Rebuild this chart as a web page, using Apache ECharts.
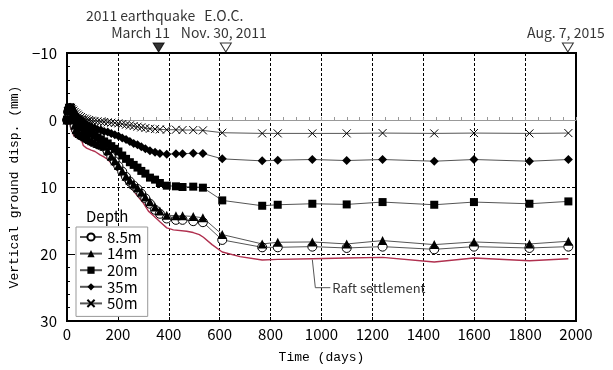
<!DOCTYPE html>
<html>
<head>
<meta charset="utf-8">
<script src="https://cdn.jsdelivr.net/npm/echarts@6/dist/echarts.min.js"></script>
<style>
  html, body { margin: 0; padding: 0; background: #fff; }
  #chart { width: 613px; height: 370px; }
</style>
</head>
<body>
<div id="chart"></div>
<script>
// Measurement days (elapsed days) shared by the layered settlement gauges
const days = [0, 4, 8, 12, 16, 20, 25, 30, 36, 42, 48, 55, 62, 70, 78, 87, 97, 108, 120, 133,
  146, 160, 174, 188, 202, 217, 232, 247, 262, 277, 292, 308, 326, 346, 365, 392, 428, 454, 496, 534,
  610, 767, 828, 964, 1099, 1240, 1443, 1599, 1817, 1970];

// Vertical ground displacement (mm, settlement positive) by depth
const depth8_5 = [0, -1.2, -1.7, -1.7, -1.3, -0.7, 0.1, 0.9, 1.5, 1.9, 2.1, 2.3, 2.4, 2.6, 2.8, 3.0, 3.2, 3.4, 3.6, 3.8,
  4.0, 4.7, 5.5, 6.2, 6.9, 7.7, 8.5, 9.2, 9.8, 10.3, 11.0, 11.7, 12.5, 13.4, 14.0, 14.7, 14.9, 14.9, 15.1, 15.25,
  17.9, 19.0, 19.0, 18.9, 19.1, 18.9, 19.3, 18.9, 19.1, 18.9];
const depth14 = [0, -1.3, -1.8, -1.8, -1.4, -0.8, 0.0, 0.8, 1.4, 1.8, 2.0, 2.2, 2.3, 2.5, 2.7, 2.9, 3.1, 3.3, 3.5, 3.7,
  3.9, 4.6, 5.4, 6.1, 6.8, 7.6, 8.4, 9.0, 9.6, 10.1, 10.8, 11.5, 12.2, 13.0, 13.6, 14.2, 14.3, 14.3, 14.4, 14.6,
  17.1, 18.5, 18.25, 18.2, 18.5, 18.0, 18.6, 18.2, 18.5, 18.1];
const depth20 = [0, -1.3, -1.8, -1.9, -1.6, -1.3, -0.9, -0.5, -0.1, 0.3, 0.6, 0.9, 1.1, 1.4, 1.6, 1.8, 2.0, 2.3, 2.6, 2.9,
  3.2, 3.5, 3.9, 4.3, 4.7, 5.3, 5.8, 6.3, 6.7, 7.1, 7.6, 8.0, 8.6, 8.9, 9.4, 9.8, 9.9, 10.0, 9.95, 10.1,
  12.0, 12.8, 12.65, 12.5, 12.6, 12.25, 12.65, 12.25, 12.5, 12.15];
const depth35 = [0, -1.3, -1.8, -1.9, -1.7, -1.5, -1.2, -0.9, -0.6, -0.3, -0.1, 0.1, 0.3, 0.6, 0.8, 0.9, 1.1, 1.2, 1.4, 1.5,
  1.7, 1.8, 2.0, 2.2, 2.4, 2.7, 2.9, 3.2, 3.5, 3.7, 4.0, 4.3, 4.6, 4.8, 5.0, 5.1, 5.05, 5.05, 4.95, 5.0,
  5.8, 6.1, 6.0, 5.9, 6.05, 5.9, 6.15, 5.9, 6.15, 5.9];
const depth50 = [0, -1.3, -1.8, -1.9, -1.8, -1.6, -1.4, -1.2, -1.0, -0.8, -0.6, -0.45, -0.3, -0.2, -0.1, 0.0, 0.1, 0.15, 0.2, 0.25,
  0.3, 0.35, 0.4, 0.45, 0.5, 0.6, 0.7, 0.8, 0.9, 1.0, 1.1, 1.2, 1.3, 1.35, 1.4, 1.45, 1.45, 1.5, 1.5, 1.55,
  1.9, 2.0, 2.0, 2.0, 2.0, 1.95, 2.0, 1.95, 2.0, 1.95];

// Raft foundation settlement (continuous record)
const raftDays = [0, 10, 18, 25, 35, 45, 58, 64, 77, 95, 110, 130, 145, 160, 175, 195, 215, 234, 254, 274,
  300, 320, 340, 365, 392, 418, 470, 496, 520, 536, 570, 610, 680, 767, 828, 964, 1099, 1240, 1443, 1599, 1817, 1970];
const raftSettlement = [0, 0.3, 1.5, 2.2, 2.6, 2.7, 3.1, 3.8, 4.2, 4.5, 4.7, 5.2, 5.5, 5.9, 6.5, 7.3, 8.4, 9.3, 10.2, 11.2,
  12.4, 13.6, 14.3, 15.2, 16.1, 16.4, 16.6, 16.8, 17.1, 17.5, 18.6, 19.7, 20.4, 20.9, 20.8, 20.7, 20.6, 20.5, 21.2, 20.6, 21.0, 20.7];

// Axis ticks
const xTicks = [0, 200, 400, 600, 800, 1000, 1200, 1400, 1600, 1800, 2000];
const yTicks = [-10, 0, 10, 20, 30];

// Milestones marked above the plot
const eventDays = [360, 624, 1968];
const eventLabels = ['2011 earthquake\nMarch 11', 'E.O.C.\nNov. 30, 2011', 'Aug. 7, 2015'];
const eventFilled = [true, false, false];

const depthNames = ['8.5m', '14m', '20m', '35m', '50m'];
const raftName = 'Raft settlement';
const raftLabelDay = 964;

const SANS = '"Noto Sans CJK JP", "Noto Sans", "Liberation Sans", sans-serif';
const MONO = '"Liberation Mono", "DejaVu Sans Mono", monospace';
const CROSS = 'path://M0,0L10,10M10,0L0,10';
const DOWN_TRI = 'path://M0,0L10,0L5,9Z';

const pairs = (xs, ys) => xs.map((x, i) => [x, ys[i]]);

function depthSeries(name, values, symbol, fill, size) {
  return {
    type: 'line', name, xAxisIndex: 0, yAxisIndex: 0,
    data: pairs(days, values),
    symbol, symbolSize: size, showAllSymbol: true,
    lineStyle: { color: '#555', width: 1 },
    itemStyle: { color: fill, borderColor: '#000', borderWidth: symbol === CROSS ? 1 : (fill === '#fff' ? 1 : 0) },
    emphasis: { disabled: true },
    animation: false, z: 3
  };
}

const chart = echarts.init(document.getElementById('chart'), null, { renderer: 'canvas' });

const xMin = xTicks[0], xMax = xTicks[xTicks.length - 1];
const yMin = yTicks[0], yMax = yTicks[yTicks.length - 1];
const labelText = (v) => (v < 0 ? '\u2212' + Math.abs(v) : String(v));

chart.setOption({
  animation: false,
  backgroundColor: '#fff',
  grid: { left: 67, right: 37, top: 53, bottom: 49, show: true, borderColor: '#000', borderWidth: 2, backgroundColor: 'transparent' },
  xAxis: [
    {
      type: 'value', min: xMin, max: xMax, interval: xTicks[1] - xTicks[0], position: 'bottom',
      name: 'Time (days)', nameLocation: 'middle', nameGap: 30,
      nameTextStyle: { fontFamily: MONO, fontSize: 13, color: '#000' },
      axisLine: { onZero: false, lineStyle: { color: '#000', width: 2 } },
      axisTick: { inside: true, length: 4, lineStyle: { color: '#000' } },
      axisLabel: { margin: 6, fontFamily: SANS, fontSize: 15, color: '#000', formatter: labelText },
      splitLine: { show: true, lineStyle: { color: '#000', type: [3, 2], width: 1 } }
    },
    {
      // zero reference line with 50-day ticks
      type: 'value', min: xMin, max: xMax, interval: 50, position: 'bottom',
      axisLine: { onZero: true, lineStyle: { color: '#999', width: 1 } },
      axisTick: { inside: true, length: 3, lineStyle: { color: '#999' } },
      axisLabel: { show: false },
      splitLine: { show: false }
    }
  ],
  yAxis: {
    type: 'value', min: yMin, max: yMax, interval: yTicks[1] - yTicks[0], inverse: true,
    name: 'Vertical ground disp. (mm)', nameLocation: 'middle', nameGap: 37,
    nameTextStyle: { fontFamily: MONO, fontSize: 13, color: '#000' },
    axisLine: { lineStyle: { color: '#000', width: 2 } },
    axisTick: { inside: true, length: 5, lineStyle: { color: '#000' } },
    minorTick: { show: true, splitNumber: 5, length: 3, lineStyle: { color: '#000' } },
    axisLabel: { margin: 10, fontFamily: SANS, fontSize: 15, color: '#000', formatter: labelText },
    splitLine: { show: true, lineStyle: { color: ['rgba(0,0,0,0)', 'rgba(0,0,0,0)', '#000', '#000', 'rgba(0,0,0,0)'], type: [3, 2], width: 1 } }
  },
  legend: {
    data: depthNames,
    orient: 'vertical', left: 76, top: 227,
    itemWidth: 22, itemHeight: 9, itemGap: 0.6,
    padding: [2, 6, 5, 3],
    backgroundColor: '#fff', borderColor: '#999', borderWidth: 1, borderRadius: 0,
    textStyle: { fontFamily: SANS, fontSize: 15, color: '#000', lineHeight: 16 },
    selectedMode: false
  },
  series: [
    depthSeries(depthNames[0], depth8_5, 'circle', '#fff', 9),
    depthSeries(depthNames[1], depth14, 'triangle', '#000', 9),
    depthSeries(depthNames[2], depth20, 'rect', '#000', 8),
    depthSeries(depthNames[3], depth35, 'diamond', '#000', 9),
    depthSeries(depthNames[4], depth50, CROSS, '#fff', 8),
    {
      type: 'line', name: raftName, xAxisIndex: 0, yAxisIndex: 0,
      data: pairs(raftDays, raftSettlement),
      symbol: 'none', lineStyle: { color: '#b0304f', width: 1.4 },
      emphasis: { disabled: true }, z: 2
    },
    {
      type: 'scatter', name: 'events', xAxisIndex: 0, yAxisIndex: 0,
      clip: false, silent: true, z: 10,
      symbol: DOWN_TRI, symbolSize: [11, 9], symbolOffset: [0, -5.5],
      data: eventDays.map((d, i) => ({
        value: [d, yMin],
        itemStyle: { color: eventFilled[i] ? '#000' : '#fff', borderColor: '#000', borderWidth: 1 },
        label: { formatter: eventLabels[i], offset: [i === 0 ? -18 : -2, 0] }
      })),
      label: { show: true, position: 'top', distance: 1, fontFamily: SANS, fontSize: 14, lineHeight: 17, color: '#000' }
    }
  ]
});

// "Depth" heading over the legend, leader line and caption for the raft curve
const idx = raftDays.indexOf(raftLabelDay);
const p = chart.convertToPixel({ xAxisIndex: 0, yAxisIndex: 0 }, [raftLabelDay, raftSettlement[idx]]);
chart.setOption({
  graphic: [
    { type: 'text', left: 86, top: 209, style: { text: 'Depth', fontFamily: SANS, fontSize: 15, fill: '#000' } },
    {
      type: 'polyline', silent: true, z: 20,
      shape: { points: [[p[0], p[1] + 1], [p[0] + 3, p[1] + 29], [p[0] + 18, p[1] + 29]] },
      style: { stroke: '#555', lineWidth: 1, fill: null }
    },
    {
      type: 'text', silent: true, z: 20, x: p[0] + 20, y: p[1] + 29,
      style: { text: raftName, fontFamily: SANS, fontSize: 13, fill: '#333', verticalAlign: 'middle' }
    }
  ]
});
</script>
</body>
</html>
